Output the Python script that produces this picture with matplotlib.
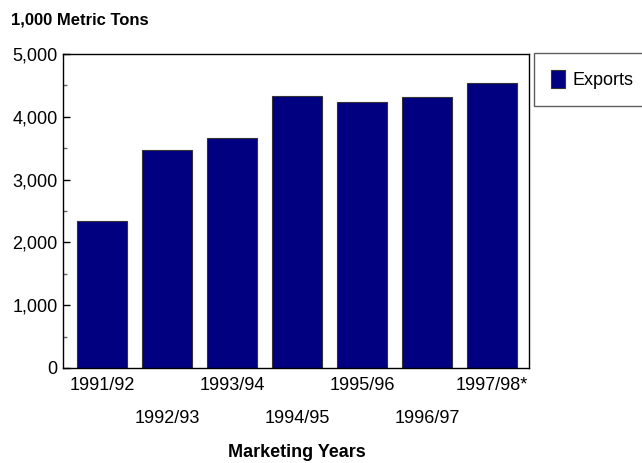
import matplotlib
matplotlib.use("Agg")
import matplotlib.pyplot as plt
from matplotlib.ticker import MultipleLocator, FuncFormatter

years = ["1991/92", "1992/93", "1993/94", "1994/95", "1995/96", "1996/97", "1997/98*"]
exports = [2340, 3475, 3660, 4330, 4240, 4315, 4540]

plt.rcParams["font.family"] = ["Liberation Sans", "DejaVu Sans"]

fig = plt.figure(figsize=(6.42, 4.63), dpi=100)
ax = fig.add_axes([0.0981, 0.2052, 0.7259, 0.6782])

x = list(range(len(years)))
bars = ax.bar(x, exports, width=0.76, color="#000080", edgecolor="#333333",
              linewidth=0.8, label="Exports", zorder=2)

ax.set_xlim(-0.6, 6.57)
ax.set_ylim(0, 5000)
ax.yaxis.set_major_locator(MultipleLocator(1000))
ax.yaxis.set_minor_locator(MultipleLocator(500))
ax.yaxis.set_major_formatter(FuncFormatter(lambda v, p: f"{int(v):,}"))
ax.tick_params(axis="y", which="major", direction="in", length=5, width=1,
               labelsize=13, pad=4)
ax.tick_params(axis="y", which="minor", direction="in", length=3, width=1,
               color="#666666")
ax.set_xticks(x)
ax.set_xticklabels([])
ax.tick_params(axis="x", direction="in", length=6, width=1, color="black")
for s in ax.spines.values():
    s.set_linewidth(1.0)

# staggered category labels
for i, lab in enumerate(years):
    yoff = -0.055 if i % 2 == 0 else -0.16
    ax.text(i, yoff, lab, transform=ax.get_xaxis_transform(), ha="center",
            va="center", fontsize=13)

fig.text(0.017, 0.957, "1,000 Metric Tons", fontsize=12, fontweight="bold",
         ha="left", va="center")
fig.text(0.463, 0.022, "Marketing Years", fontsize=13, fontweight="bold",
         ha="center", va="center")

leg = fig.legend(handles=[bars], labels=["Exports"], loc="upper left",
                 bbox_to_anchor=(0.831, 0.885), frameon=True, fancybox=False,
                 fontsize=13, handlelength=0.8, handleheight=1.1,
                 borderpad=0.95, handletextpad=0.4, borderaxespad=0)
leg.get_frame().set_edgecolor("#333333")
leg.get_frame().set_linewidth(1.0)

fig.savefig("out.png", dpi=100)
